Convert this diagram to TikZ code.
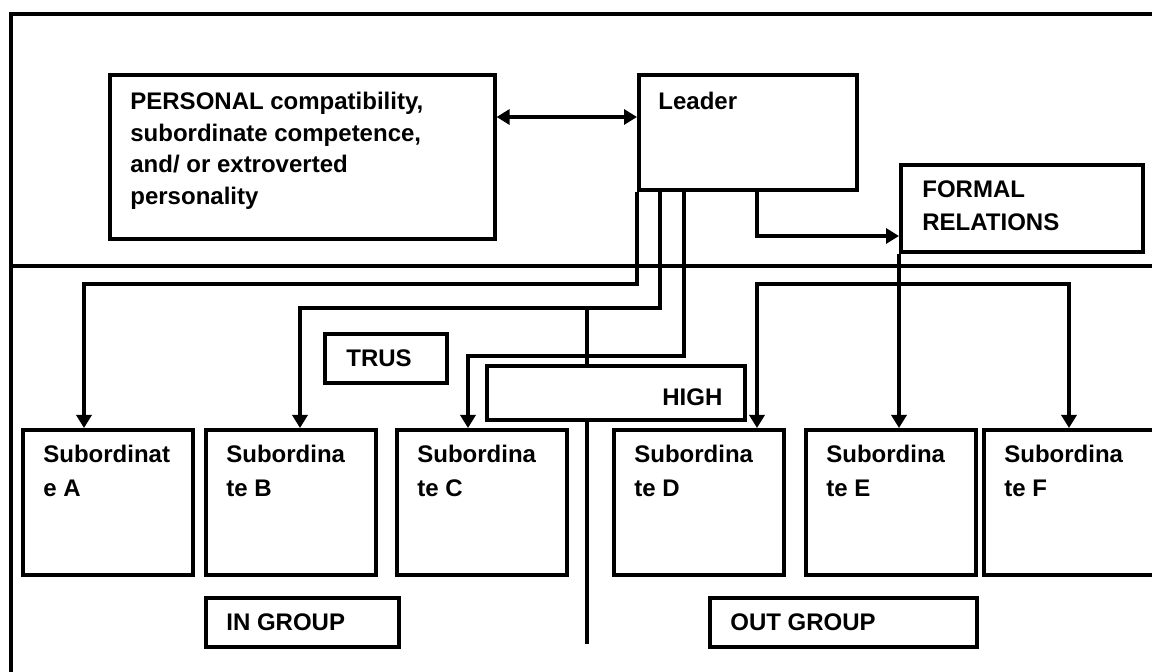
\documentclass[tikz,border=0pt]{standalone}
\usepackage{fontspec}
\setmainfont{Liberation Sans}
\usetikzlibrary{arrows.meta,positioning}

\tikzset{
 box/.style={draw, line width=1.8pt, anchor=north west, inner sep=0pt, fill=white},
 txt/.style={inner sep=0pt, align=left, font=\bfseries\fontsize{12}{16.5}\selectfont},
 link/.style={line width=1.6pt},
 >={Triangle[length=6.5pt,width=7.5pt]}
}

\begin{document}
\begin{tikzpicture}[x=0.5pt,y=-0.5pt]
 \useasboundingbox (0,0) rectangle (1152,672);
 % frame and divider
 \draw[line width=2pt] (11,672) -- (11,14) -- (1152,14);
 \draw[line width=2pt] (11,266) -- (1152,266);

 % top row
 \node[box, minimum width=192.5pt, minimum height=82pt] (pers) at (108,73) {};
 \node[box, minimum width=109pt, minimum height=57.5pt] (lead) at (637,73) {};
 \node[box, minimum width=121pt, minimum height=43.5pt] (formal) at (899,163) {};

 % subordinates
 \foreach \n/\x in {A/21, B/204, C/395, D/612, E/804, F/982}
   \node[box, minimum width=85pt, minimum height=72.5pt] (sub\n) at (\x,428) {};

 % connectors
 \draw[link,<->] (pers.east |- 0,117) -- (lead.west |- 0,117);
 \draw[link,->] (lead.south west) |- (84,284) -- (subA.north -| 84,0);
 \draw[link,->] (lead.south west) ++(23,0) |- (300,308) -- (subB.north -| 300,0);
 \draw[link,->] (lead.south west) ++(47,0) |- (468,356) -- (subC.north -| 468,0);
 \draw[link,->] (lead.south west) ++(120,0) |- (formal.west |- 0,236);
 \draw[link,->] (formal.south west) -- (formal.south west |- subE.north);
 \draw[link,<->] (subD.north -| 757,0) |- (1069,284) -- (subF.north -| 1069,0);

 \coordinate (split) at (587,308);
 \coordinate (axisend) at (587,644);
 \draw[link] (split) -- (axisend);

 % labels
 \node[box, minimum width=61pt, minimum height=24.5pt] (trus) at (323,332) {};
 \node[box, minimum width=129pt, minimum height=27pt] (high) at (485,364) {};
 \node[box, minimum width=96.5pt, minimum height=24.5pt] (ingrp) at (204,596) {};
 \node[box, minimum width=133.5pt, minimum height=24.5pt] (outgrp) at (708,596) {};

 \node[txt, font=\bfseries\fontsize{12}{15.8}\selectfont, below right=9.5pt and 11pt of pers.north west] (tpers) {PERSONAL compatibility,\\subordinate competence,\\and/ or extroverted\\personality};
 \node[txt, below right=9.5pt and 10.5pt of lead.north west] (tlead) {Leader};
 \node[txt, below right=8.5pt and 11.5pt of formal.north west] (tformal) {FORMAL\\RELATIONS};
 \node[txt, below right=8.5pt and 11.5pt of trus.north west] (ttrus) {TRUS};
 \node[txt, below right=12pt and 88.5pt of high.north west] (thigh) {HIGH};
 \node[txt, below right=8.5pt and 11pt of ingrp.north west] (tingrp) {IN GROUP};
 \node[txt, below right=8.5pt and 11pt of outgrp.north west] (toutgrp) {OUT GROUP};

 \foreach \n/\t in {A/{Subordinat\\e A}, B/{Subordina\\te B}, C/{Subordina\\te C},
                    D/{Subordina\\te D}, E/{Subordina\\te E}, F/{Subordina\\te F}}
   \node[txt, font=\bfseries\fontsize{12}{17}\selectfont, below right=8.5pt and 11pt of sub\n.north west] (t\n) {\t};
\end{tikzpicture}
\end{document}
